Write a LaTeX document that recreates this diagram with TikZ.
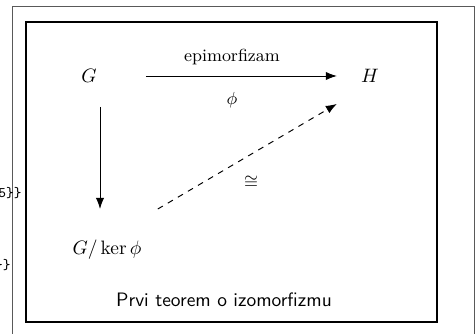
\documentclass[tikz,border=0pt]{standalone}
\usetikzlibrary{positioning,arrows.meta,calc}
\tikzset{
  obj/.style   = {inner sep=2pt},
  map/.style   = {-{Latex[length=2mm,width=1.5mm]}, line width=0.5pt},
  iso/.style   = {map, dashed},
  lbl/.style   = {inner sep=1pt, font=\small},
  frame/.style = {draw, line width=0.7pt},
  outer/.style = {draw=black!65, line width=0.5pt},
  spill/.style = {font=\ttfamily\fontsize{7.5}{9}\selectfont, inner sep=0pt},
}

\begin{document}
\begin{tikzpicture}[x=0.0181cm,y=-0.0181cm]
\useasboundingbox (0,0) rectangle (475,334);

% ------------------------------------------------------------------ frames
\draw[outer] (12,345) -- (12,6) -- (474,6) -- (474,345);
\draw[frame] (26,22) rectangle (437,322);
\node[spill, anchor=west] (s1) at (-2,193) {5\}\}};
\node[spill, anchor=east] (s2) at (11,265) {\}\}};

% ------------------------------------------------------------------ objects
\node[obj] (G) at (89,76)  {$G$};
\node[obj] (H) at (370,76) {$H$};
\node[obj] (Q) at (107,250) {$G/\ker\phi$};
\node[font=\sffamily] (cap) at (224,300) {Prvi teorem o izomorfizmu};

% ------------------------------------------------------------------ maps
\draw[map] ($(G.east)+(45,0)$) -- ($(H.west)+(-20,0)$);
\node[lbl] (epi) at (232,57)  {epimorfizam};
\node[lbl] (phi) at (232,100) {$\phi$};
\draw[map] ($(G.south)+(11,20)$) -- ($(Q.north)+(-7,-27)$);
\draw[iso] ($(Q.north east)+(12,-27)$) -- ($(H.south west)+(-20,17)$);
\node[lbl] (cong) at (251,182) {$\cong$};

\end{tikzpicture}
\end{document}
